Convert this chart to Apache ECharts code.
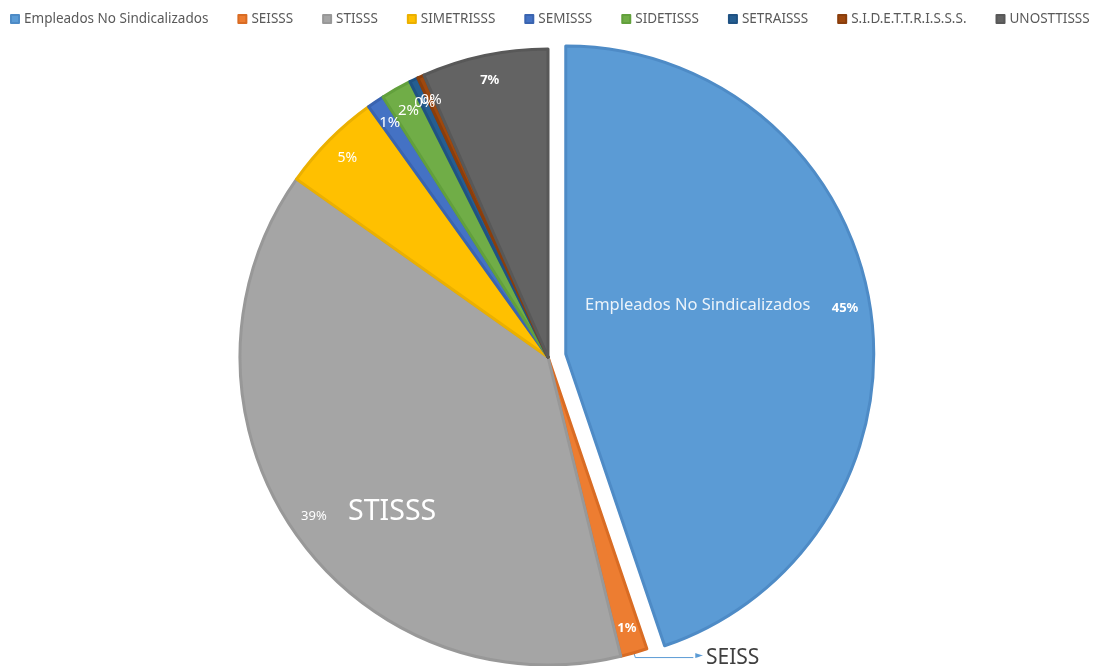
<!DOCTYPE html>
<html><head><meta charset="utf-8">
<script src="https://cdn.jsdelivr.net/npm/echarts@6.0.0/dist/echarts.min.js"></script>
<style>html,body{margin:0;padding:0;background:#fff}#c{width:1093px;height:666px}</style>
</head><body><div id="c"></div>
<script>
const categories = ['Empleados No Sindicalizados','SEISSS','STISSS','SIMETRISSS','SEMISSS','SIDETISSS','SETRAISSS','S.I.D.E.T.T.R.I.S.S.S.','UNOSTTISSS'];
const values = [44.8, 1.4, 38.6, 5.3, 0.9, 1.6, 0.45, 0.35, 6.6];
const colors = ['#5B9BD5','#ED7D31','#A5A5A5','#FFC000','#4472C4','#70AD47','#255E91','#9E480E','#636363'];
const borderColors = ['#4E8BC6','#D96C24','#989898','#EBB000','#3A64B0','#62A03C','#1F5283','#8A3E0C','#585858'];
const nameLabelIdx = [0, 2];
const calloutIdx = 1;
const calloutText = 'SEISS';
const explodedIdx = 0;

const FONT = '"Noto Sans", sans-serif';
const total = values.reduce((a,b)=>a+b,0);
const pctText = v => Math.round(v/total*100) + '%';

const pctStyles = [
  {fontSize:13, fontWeight:'bold'},
  {fontSize:13, fontWeight:'bold'},
  {fontSize:13, fontWeight:'normal'},
  {fontSize:14, fontWeight:'normal'},
  {fontSize:15, fontWeight:'normal'},
  {fontSize:15, fontWeight:'normal'},
  {fontSize:15, fontWeight:'normal'},
  {fontSize:15, fontWeight:'normal'},
  {fontSize:13, fontWeight:'bold'}
];
const nameStyles = {
  0: {fontSize:16.5, color:'rgba(255,255,255,0.88)'},
  2: {fontSize:28.5, color:'#ffffff'}
};
const nameOffsets = {0: [-23, -23], 2: [-26, 67]};

const CENTER = [548, 357];
const R = 308;
const transparent = 'rgba(0,0,0,0)';

const mainData = categories.map((n,i)=>({
  name:n, value:values[i], selected: i===explodedIdx,
  itemStyle:{color:colors[i], borderColor:borderColors[i], borderWidth:3},
  select:{itemStyle:{color:colors[i], borderColor:borderColors[i], borderWidth:3}}
}));
const pctData = categories.map((n,i)=>({
  name:n, value:values[i], selected: i===explodedIdx,
  label:Object.assign({show:true, position:'inside', color:'#fff', fontFamily:FONT, formatter: pctText(values[i])}, pctStyles[i])
}));
const nameData = categories.map((n,i)=>{
  const d = {name:n, value:values[i], selected: i===explodedIdx};
  if (nameLabelIdx.includes(i)) {
    d.label = Object.assign({show:true, position:'inside', fontFamily:FONT, formatter:'{b}'}, nameStyles[i]);
  } else if (i === calloutIdx) {
    d.label = {show:true, position:'outside', formatter:'{a|►}{t|' + calloutText + '}',
      distanceToLabelLine:2,
      rich:{a:{fontFamily:'DejaVu Sans', fontSize:10, color:'#5B9BD5', padding:[0,3,4,0]},
            t:{fontFamily:FONT, fontSize:21, color:'#404040'}}};
    d.labelLine = {show:true, length:5, length2:58, lineStyle:{color:'#5B9BD5', width:1}};
  }
  return d;
});

const common = {type:'pie', center:CENTER, startAngle:90, clockwise:true,
  selectedMode:'single', selectedOffset:18, avoidLabelOverlap:false, animation:false,
  labelLayout:{hideOverlap:false}};

const option = {
  animation:false,
  legend:{
    data:categories, left:10, top:12, width:1083, padding:0, itemWidth:8, itemHeight:8, itemGap:29,
    icon:'rect', textStyle:{fontFamily:FONT, fontSize:13.5, color:'#595959'}
  },
  series:[
    Object.assign({}, common, {name:'main', radius:[0,R], label:{show:false}, labelLine:{show:false},
      emphasis:{scale:false}, data:mainData}),
    Object.assign({}, common, {name:'pct', radius:[R-56,R], silent:true, legendHoverLink:false,
      itemStyle:{color:transparent, borderWidth:0}, labelLine:{show:false}, data:pctData}),
    Object.assign({}, common, {name:'names', radius:[0,R], silent:true, legendHoverLink:false,
      itemStyle:{color:transparent, borderWidth:0}, label:{show:false}, labelLine:{show:false},
      labelLayout: p => { const o = nameOffsets[p.dataIndex]; return o ? {dx:o[0], dy:o[1], hideOverlap:false} : {hideOverlap:false}; },
      data:nameData})
  ]
};
const chart = echarts.init(document.getElementById('c'), null, {renderer:'canvas'});
chart.setOption(option);
</script></body></html>
